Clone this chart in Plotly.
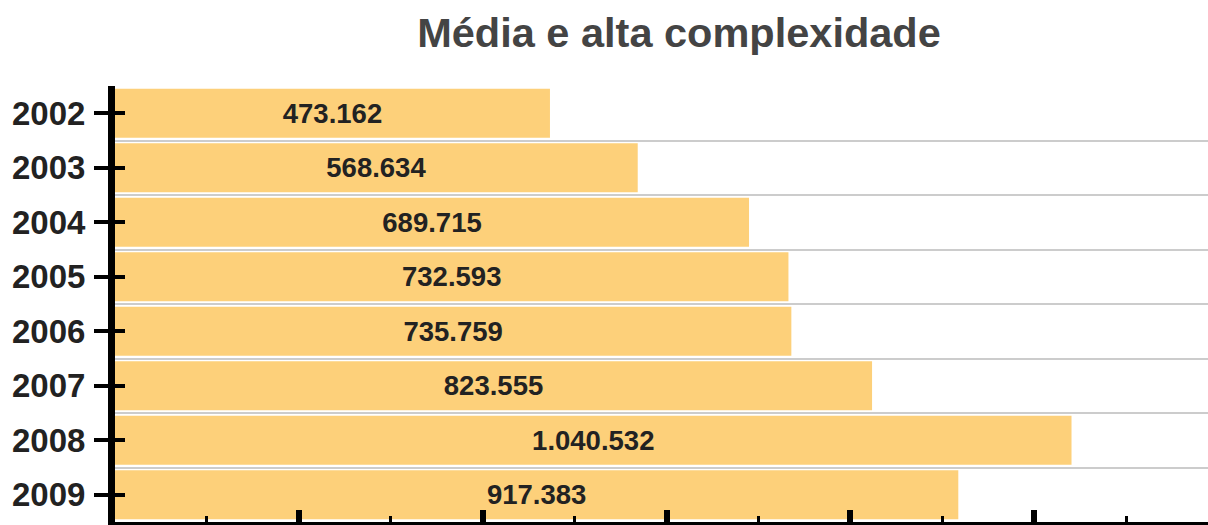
import plotly.graph_objects as go

years = ["2002", "2003", "2004", "2005", "2006", "2007", "2008", "2009"]
values = [473162, 568634, 689715, 732593, 735759, 823555, 1040532, 917383]

title_text = "Média e alta complexidade"
bar_color = "#FDD07A"
font_family = "Arial, Liberation Sans, sans-serif"

fig = go.Figure()
fig.add_trace(go.Bar(
    x=values, y=years, orientation="h",
    marker=dict(color=bar_color, line=dict(width=0)),
    width=0.9,
    texttemplate="<b>%{x:,}</b>",
    textposition="inside", insidetextanchor="middle",
    constraintext="none", textangle=0,
    textfont=dict(family=font_family, size=27.5, color="#222222"),
    hoverinfo="skip", showlegend=False,
))
# invisible helpers so overlay axes know the categories
for ax in ["y2", "y3"]:
    fig.add_trace(go.Scatter(
        x=values, y=years, yaxis=ax, mode="markers",
        marker=dict(opacity=0), hoverinfo="skip", showlegend=False,
    ))

cat_common = dict(type="category", categoryorder="array", categoryarray=years,
                  range=[len(years) - 0.5, -0.5])

fig.update_layout(
    width=1208, height=525,
    margin=dict(l=115, r=0, t=86, b=3),
    paper_bgcolor="white", plot_bgcolor="white",
    separators=",.",
    title=dict(text="<b>" + title_text + "</b>", x=679 / 1208, xref="container",
               xanchor="center", y=1 - 32 / 525, yref="container", yanchor="middle",
               font=dict(family=font_family, size=41.5, color="#444444")),
    bargap=0.1,
    xaxis=dict(range=[0, 1189000], showline=True, linecolor="black", linewidth=3,
               ticks="inside", ticklen=12, tickwidth=6, tickcolor="black",
               tick0=0, dtick=200000, showticklabels=False, showgrid=False,
               zeroline=False,
               minor=dict(ticks="inside", ticklen=6, tickwidth=3, tickcolor="black",
                          dtick=100000, tick0=0, showgrid=False)),
    yaxis=dict(**cat_common, showline=True, linecolor="black", linewidth=7,
               ticks="outside", ticklen=14, tickwidth=4, tickcolor="black",
               showgrid=False, zeroline=False, ticklabelstandoff=2,
               tickprefix="<b>", ticksuffix="</b>",
               tickfont=dict(family=font_family, size=33, color="#222222")),
    yaxis2=dict(**cat_common, overlaying="y", side="left", showline=False,
                ticks="inside", ticklen=10, tickwidth=4, tickcolor="black",
                showticklabels=False, showgrid=False, zeroline=False),
    yaxis3=dict(**cat_common, overlaying="y", side="left", showline=False,
                tickson="boundaries", ticks="", showticklabels=False,
                showgrid=True, gridcolor="#CCCCCC", gridwidth=2, zeroline=False),
)

fig.write_html("out.html")
